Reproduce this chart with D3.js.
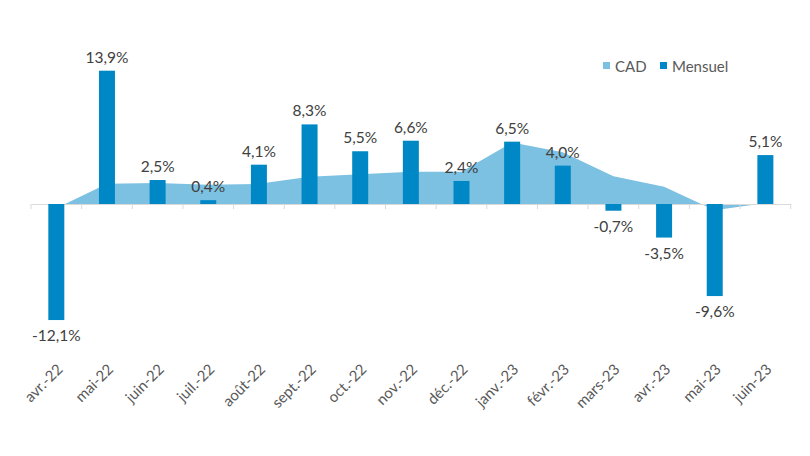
<!DOCTYPE html>
<html>
<head>
<meta charset="utf-8">
<script src="https://cdn.jsdelivr.net/npm/d3@7"></script>
<style>
  html, body { margin: 0; padding: 0; background: #fff; }
  svg text { font-family: Lato, "Open Sans", sans-serif; }
</style>
</head>
<body>
<svg id="chart" width="810" height="456"></svg>
<script>
const categories = ["avr.-22","mai-22","juin-22","juil.-22","août-22","sept.-22","oct.-22","nov.-22","déc.-22","janv.-23","févr.-23","mars-23","avr.-23","mai-23","juin-23"];
const mensuel = [-12.1, 13.9, 2.5, 0.4, 4.1, 8.3, 5.5, 6.6, 2.4, 6.5, 4.0, -0.7, -3.5, -9.6, 5.1];
const cad = [-0.45, 2.1, 2.2, 2.0, 2.1, 2.85, 3.1, 3.35, 3.35, 6.4, 5.4, 2.9, 1.8, -0.65, 0.1];
const seriesNames = ["CAD", "Mensuel"];

const barColor = "#0088C6";
const areaColor = "#7CC1E1";
const textColor = "#404040";
const axisColor = "#D9D9D9";

const svg = d3.select("#chart");

const x = d3.scaleBand().domain(categories).range([31, 790.7]).paddingInner(0).paddingOuter(0);
const y = d3.scaleLinear().domain([0, 13.9]).range([204, 70.7]);

const data = categories.map((c, i) => ({cat: c, m: mensuel[i], cad: cad[i]}));
const cx = d => x(d.cat) + x.bandwidth() / 2;

// CAD area
const area = d3.area()
  .x(cx)
  .y0(y(0))
  .y1(d => y(d.cad));
svg.append("path")
  .datum(data)
  .attr("d", area)
  .attr("fill", areaColor);

// Axis line & ticks
const axisG = svg.append("g").attr("transform", `translate(0,${y(0)})`);
const axis = d3.axisBottom(x).tickSize(0).tickFormat("");
axisG.call(axis);
axisG.select(".domain").attr("stroke", axisColor).attr("stroke-width", 1);
const boundaries = d3.range(categories.length + 1).map(i => x.range()[0] + i * x.step());
axisG.selectAll("line.bnd").data(boundaries).enter().append("line")
  .attr("class", "bnd")
  .attr("x1", d => d).attr("x2", d => d)
  .attr("y1", 0).attr("y2", 5)
  .attr("stroke", axisColor).attr("stroke-width", 1);

// Bars
const barW = 16;
svg.append("g").selectAll("rect").data(data).enter().append("rect")
  .attr("x", d => cx(d) - barW / 2)
  .attr("width", barW)
  .attr("y", d => Math.min(y(d.m), y(0)))
  .attr("height", d => Math.abs(y(d.m) - y(0)))
  .attr("fill", barColor);

// Value labels
const fmt = v => v.toFixed(1).replace(".", ",") + "%";
svg.append("g").selectAll("text").data(data).enter().append("text")
  .attr("x", cx)
  .attr("y", d => d.m >= 0 ? y(d.m) - 8 : y(d.m) + 21)
  .attr("text-anchor", "middle")
  .attr("font-size", 15.5)
  .attr("fill", textColor)
  .text(d => fmt(d.m));

// Category labels
svg.append("g").selectAll("text").data(data).enter().append("text")
  .attr("transform", d => `translate(${cx(d) + 3},${366}) rotate(-45)`)
  .attr("text-anchor", "end")
  .attr("dominant-baseline", "central")
  .attr("font-size", 15)
  .attr("fill", "#595959")
  .text(d => d.cat);

// Legend
const legend = svg.append("g");
const legendItems = [
  {name: seriesNames[0], color: areaColor, x: 603},
  {name: seriesNames[1], color: barColor, x: 660}
];
legendItems.forEach(it => {
  legend.append("rect").attr("x", it.x).attr("y", 62).attr("width", 7).attr("height", 7).attr("fill", it.color);
  legend.append("text").attr("x", it.x + 12).attr("y", 65.5)
    .attr("dominant-baseline", "central")
    .attr("font-size", 15).attr("fill", "#595959").text(it.name);
});
</script>
</body>
</html>
